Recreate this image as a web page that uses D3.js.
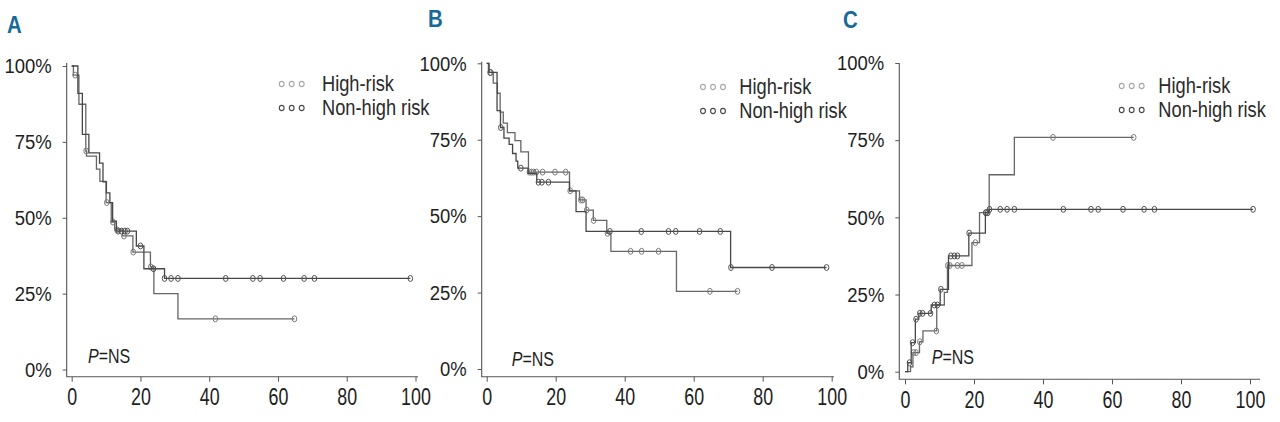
<!DOCTYPE html>
<html>
  <head>
	<meta charset="utf-8">
	<title>Kaplan-Meier panels A B C</title>
	<style>
	  body { margin: 0; background: #fff; }
	  svg { display: block; }
	  text { font-family: 'Liberation Sans', Arial, sans-serif; }
	</style>
  </head>
  <body>
	<div id="chart"></div>
	<script src="https://d3js.org/d3.v7.min.js"></script>
	<script>
	  // groups and ticks
	  var groups = ['High-risk', 'Non-high risk'];
	  var panelLetters = ['A', 'B', 'C'];
	  var xTicks = [0, 20, 40, 60, 80, 100];
	  var yTicks = [0, 25, 50, 75, 100];
	  var yTickLabels = ['0%', '25%', '50%', '75%', '100%'];
	  var pLabel = 'NS';

	  // panel A
	  var aHighTime   = [0, 0.5, 2.1, 4.1, 4.3, 7.2, 8.2, 10.0, 11.5, 12.5, 14.8, 17.8, 22.9, 23.9, 30.9];
	  var aHighValue  = [100, 97, 87.4, 72, 70.3, 66, 62, 55, 48.6, 46, 44, 38.7, 33.8, 25, 16.7];
	  var aHighEnd    = 64.8;
	  var aHighCensor = [1.0, 4.2, 10.2, 12.0, 13.2, 15.2, 17.9, 23.0, 41.8, 64.8];
	  var aNonTime    = [0, 1.8, 3.1, 5.0, 8.1, 9.1, 10.1, 11.1, 11.9, 13.0, 18.8, 21.0, 27.0];
	  var aNonValue   = [100, 91, 77.5, 71.4, 68, 61.8, 58.2, 55, 48.9, 45.6, 40.7, 33.2, 30];
	  var aNonEnd     = 98.5;
	  var aNonCensor  = [13.5, 14.5, 15.5, 16.2, 20.0, 23.8, 27.0, 28.9, 30.9, 44.8, 52.7, 54.8, 61.6, 67.6, 70.6, 98.5];

	  // panel B
	  var bHighTime   = [0, 0.5, 1.9, 3.1, 3.9, 4.8, 6.0, 8.2, 9.9, 12.1, 24.0, 26.9, 28.8, 30.9, 34.8, 36.0, 55.0];
	  var bHighValue  = [100, 97, 93.5, 90.2, 84, 80.4, 77.3, 74.7, 71, 64.4, 58.3, 55.3, 52, 48.6, 44.4, 38.5, 25.4];
	  var bHighEnd    = 72.7;
	  var bHighCensor = [1.2, 12.4, 13.0, 13.6, 14.4, 16.2, 19.8, 22.9, 24.2, 27.3, 27.8, 29.0, 31.0, 35.0, 41.7, 44.9, 49.8, 64.7, 72.7];
	  var bNonTime    = [0, 0.7, 3.0, 4.0, 5.0, 6.5, 7.5, 8.5, 9.0, 12.0, 14.5, 24.0, 25.9, 28.8, 70.7];
	  var bNonValue   = [100, 97, 84.5, 79, 75.5, 73.5, 70.5, 68, 65.7, 64, 61.1, 58.3, 51.5, 45, 33.2];
	  var bNonEnd     = 98.5;
	  var bNonCensor  = [1.0, 4.1, 9.9, 15.0, 16.0, 17.9, 35.7, 44.8, 52.7, 54.8, 61.7, 67.7, 70.8, 82.7, 98.5];

	  // panel C
	  var cHighTime   = [0, 1.6, 2.3, 4.2, 5.2, 9.2, 11.4, 12.3, 19.4, 21.6, 24.4, 31.7];
	  var cHighValue  = [0, 1.6, 6.2, 9.7, 13.2, 21.6, 25.7, 34.4, 41.8, 51.5, 63.8, 75.9];
	  var cHighEnd    = 66.3;
	  var cHighCensor = [2.5, 3.2, 4.3, 9.1, 12.4, 13.0, 15.2, 16.5, 20.4, 23.5, 42.9, 66.3];
	  var cNonTime    = [0, 0.8, 1.8, 3.0, 4.0, 7.6, 10.2, 12.6, 18.5, 23.3, 24.3];
	  var cNonValue   = [0, 2.9, 9.4, 17.0, 18.9, 21.6, 26.7, 37.5, 44.9, 51.5, 52.6];
	  var cNonEnd     = 100.9;
	  var cNonCensor  = [1.3, 2.2, 3.2, 4.3, 5.1, 7.4, 8.5, 9.4, 10.4, 13.3, 14.3, 15.2, 18.6, 23.4, 24.0, 24.5, 27.6, 29.6, 31.7, 45.9, 53.9, 56.0, 63.2, 69.3, 72.3, 100.9];

	  var width = 1280, height = 422;

	  // layout per panel (pixels)
	  var panels = [
		{ letter: [7, 33], axisX: 66.7, top: 63, bottom: 376.7, right: 418, x0: 71.7, x1: 415.5, y0: 369.5, y1: 66,
		  legend: [281.7, 84, 322], pText: [88, 363],
		  high: [aHighTime, aHighValue, aHighEnd, aHighCensor], non: [aNonTime, aNonValue, aNonEnd, aNonCensor] },
		{ letter: [428, 27], axisX: 481.7, top: 61.7, bottom: 376.7, right: 834, x0: 486.7, x1: 831.7, y0: 369, y1: 63.3,
		  legend: [703, 87, 739.3], pText: [511.7, 366],
		  high: [bHighTime, bHighValue, bHighEnd, bHighCensor], non: [bNonTime, bNonValue, bNonEnd, bNonCensor] },
		{ letter: [843, 28], axisX: 899.3, top: 63.3, bottom: 379.3, right: 1260, x0: 905, x1: 1250, y0: 371.7, y1: 63,
		  legend: [1121.7, 86, 1158.3], pText: [931.7, 364],
		  high: [cHighTime, cHighValue, cHighEnd, cHighCensor], non: [cNonTime, cNonValue, cNonEnd, cNonCensor] }
	  ];

	  var styles = {
		high: { line: '#666', mark: '#7a7a7a', legend: '#a8a8a8' },
		non:  { line: '#474747', mark: '#505050', legend: '#4a4a4a' }
	  };

	  var svg = d3.select('#chart')
		.append('svg')
		.attr('width', width)
		.attr('height', height);

	  function valueAt(times, values, t) {
		var i = d3.bisectRight(times, t) - 1;
		return values[Math.max(i, 0)];
	  }

	  // narrow the text horizontally, the original uses a condensed face
	  function squeeze(sel, sx, origin) {
		sel.style('transform-box', 'fill-box')
		  .style('transform-origin', origin)
		  .style('transform', 'scaleX(' + sx + ')');
	  }

	  panels.forEach(function(p, k) {
		var g = svg.append('g');

		var x = d3.scaleLinear().domain([0, 100]).range([p.x0, p.x1]);
		var y = d3.scaleLinear().domain([0, 100]).range([p.y0, p.y1]);

		// panel letter
		g.append('text')
		  .attr('x', p.letter[0])
		  .attr('y', p.letter[1])
		  .attr('font-size', 24)
		  .attr('font-weight', 'bold')
		  .attr('fill', '#17699a')
		  .text(panelLetters[k])
		  .call(squeeze, 0.85, 'left center');

		// axes
		var yAxis = d3.axisLeft(y)
		  .tickValues(yTicks)
		  .tickSize(4)
		  .tickPadding(11)
		  .tickFormat(function(d, i) { return yTickLabels[i]; });
		var xAxis = d3.axisBottom(x)
		  .tickValues(xTicks)
		  .tickSize(5)
		  .tickPadding(7)
		  .tickFormat(d3.format('d'));

		var ya = g.append('g')
		  .attr('transform', 'translate(' + p.axisX + ',0)')
		  .call(yAxis);
		var xa = g.append('g')
		  .attr('transform', 'translate(0,' + p.bottom + ')')
		  .call(xAxis);

		[ya, xa].forEach(function(a) {
		  a.select('.domain').remove();
		  a.selectAll('line').attr('stroke', '#555');
		  a.selectAll('text')
			.attr('fill', '#1e1e1e')
			.style('font-family', null);
		});
		ya.selectAll('text').attr('font-size', 21).call(squeeze, 0.88, 'right center');
		xa.selectAll('text').attr('font-size', 23.5).call(squeeze, 0.76, 'center');

		g.append('path')
		  .attr('d', 'M' + p.axisX + ',' + p.top + 'V' + p.bottom + 'H' + p.right)
		  .attr('fill', 'none')
		  .attr('stroke', '#555')
		  .attr('stroke-width', 1.1);

		// curves
		var line = d3.line()
		  .x(function(d) { return x(d[0]); })
		  .y(function(d) { return y(d[1]); })
		  .curve(d3.curveStepAfter);

		['high', 'non'].forEach(function(key) {
		  var times = p[key][0], values = p[key][1], end = p[key][2], censor = p[key][3];
		  var pts = times.map(function(t, i) { return [t, values[i]]; });
		  pts.push([end, values[values.length - 1]]);

		  g.append('path')
			.datum(pts)
			.attr('d', line)
			.attr('fill', 'none')
			.attr('stroke', styles[key].line)
			.attr('stroke-width', 1.3);

		  g.selectAll('.c-' + key)
			.data(censor)
			.enter()
			.append('ellipse')
			.attr('class', 'c-' + key)
			.attr('cx', function(t) { return x(t); })
			.attr('cy', function(t) { return y(valueAt(times, values, t)); })
			.attr('rx', 2.3)
			.attr('ry', 3)
			.attr('fill', 'none')
			.attr('stroke', styles[key].mark)
			.attr('stroke-width', 1);
		});

		// legend
		groups.forEach(function(name, i) {
		  var key = i === 0 ? 'high' : 'non';
		  var cy = p.legend[1] + i * 24;
		  [0, 1, 2].forEach(function(j) {
			g.append('ellipse')
			  .attr('cx', p.legend[0] + j * 10)
			  .attr('cy', cy)
			  .attr('rx', 2.4)
			  .attr('ry', 2.6)
			  .attr('fill', 'none')
			  .attr('stroke', styles[key].legend)
			  .attr('stroke-width', 1.1);
		  });
		  g.append('text')
			.attr('x', p.legend[2])
			.attr('y', cy + 7)
			.attr('font-size', 22)
			.attr('fill', '#2a2a2a')
			.text(name)
			.call(squeeze, 0.83, 'left center');
		});

		// p value
		var pt = g.append('text')
		  .attr('x', p.pText[0])
		  .attr('y', p.pText[1])
		  .attr('font-size', 20)
		  .attr('fill', '#1e1e1e');
		pt.append('tspan').attr('font-style', 'italic').text('P');
		pt.append('tspan').text('=' + pLabel);
		pt.call(squeeze, 0.8, 'left center');
	  });
	</script>
  </body>
</html>
